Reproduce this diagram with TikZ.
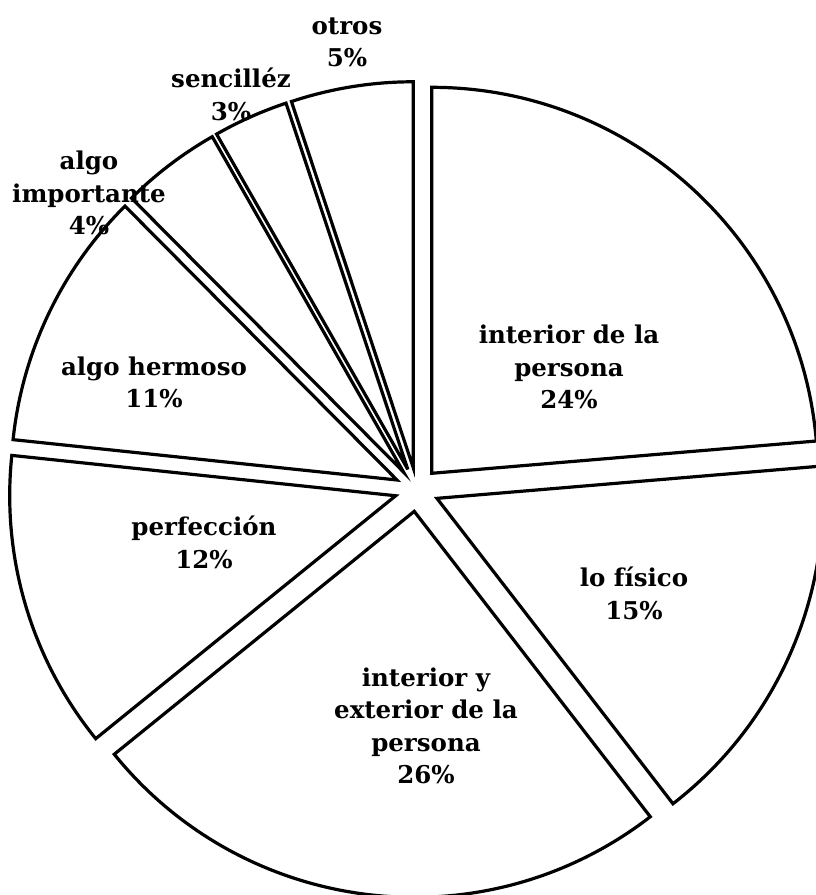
\documentclass[tikz,border=0pt]{standalone}
\usepackage{fontspec}
\setmainfont{DejaVu Serif}
\tikzset{
    slice/.style={draw=black, line width=3.2pt, line join=miter, fill=white},
    pct/.style={align=center, inner sep=0pt, font=\fontsize{24.5}{32.5}\selectfont\bfseries}
}
\begin{document}
\begin{tikzpicture}[x=1pt, y=1pt]
        \clip (-416.8, -405.5) rectangle (399.2, 489.5);
        \fill [white] (-416.8, -405.5) rectangle (399.2, 489.5);
        \draw [slice, shift={(47.4:22)}] (0, 0) -- (4.8:386) arc [start angle=4.8, end angle=90, radius=386] -- cycle;
        \draw [slice, shift={(-23.75:22)}] (0, 0) -- (-52.3:386) arc [start angle=-52.3, end angle=4.8, radius=386] -- cycle;
        \draw [slice, shift={(-96.65:22)}] (0, 0) -- (-141:386) arc [start angle=-141, end angle=-52.3, radius=386] -- cycle;
        \draw [slice, shift={(196.5:22)}] (0, 0) -- (174:386) arc [start angle=174, end angle=219, radius=386] -- cycle;
        \draw [slice, shift={(154.4:22)}] (0, 0) -- (134.8:386) arc [start angle=134.8, end angle=174, radius=386] -- cycle;
        \draw [slice, shift={(127.25:22)}] (0, 0) -- (119.7:386) arc [start angle=119.7, end angle=134.8, radius=386] -- cycle;
        \draw [slice, shift={(114.05:22)}] (0, 0) -- (108.4:386) arc [start angle=108.4, end angle=119.7, radius=386] -- cycle;
        \draw [slice, shift={(99.2:22)}] (0, 0) -- (90:386) arc [start angle=90, end angle=108.4, radius=386] -- cycle;
        \node [pct] (persona) at (152.2, 122.5) {interior de la\\persona\\24\%};
        \node [pct] (fisico) at (217.2, -104) {lo físico\\15\%};
        \node [pct] (ambos) at (9.2, -236.5) {interior y\\exterior de la\\persona\\26\%};
        \node [pct] (perfeccion) at (-212.8, -53) {perfección\\12\%};
        \node [pct] (hermoso) at (-262.8, 107) {algo hermoso\\11\%};
        \node [pct] (importante) at (-327.8, 296.5) {algo\\importante\\4\%};
        \node [pct] (sencillez) at (-185.8, 395) {sencilléz\\3\%};
        \node [pct] (otros) at (-69.8, 447) {otros\\5\%};
    \end{tikzpicture}
\end{document}
